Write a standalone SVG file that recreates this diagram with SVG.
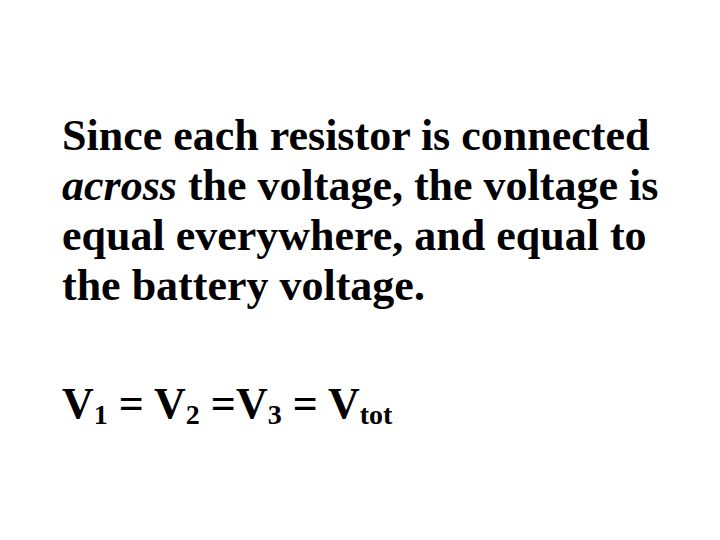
<svg xmlns="http://www.w3.org/2000/svg" width="720" height="540" viewBox="0 0 720 540">
<style>
text{font-family:"Liberation Serif","Times New Roman",serif;font-weight:bold;font-size:44px;fill:#000}
.s{font-size:28px}
</style>
<rect width="720" height="540" fill="#fff"/>
<text x="62" y="150">Since each resistor is connected</text>
<text x="62" y="200"><tspan font-style="italic">across</tspan> the voltage, the voltage is</text>
<text x="62" y="250">equal everywhere, and equal to</text>
<text x="62" y="300">the battery voltage.</text>
<text x="62" y="418">V<tspan class="s" dy="6">1</tspan><tspan dy="-6"> = V</tspan><tspan class="s" dy="6">2</tspan><tspan dy="-6"> =V</tspan><tspan class="s" dy="6">3</tspan><tspan dy="-6"> = V</tspan><tspan class="s" dy="6">tot</tspan></text>
</svg>
